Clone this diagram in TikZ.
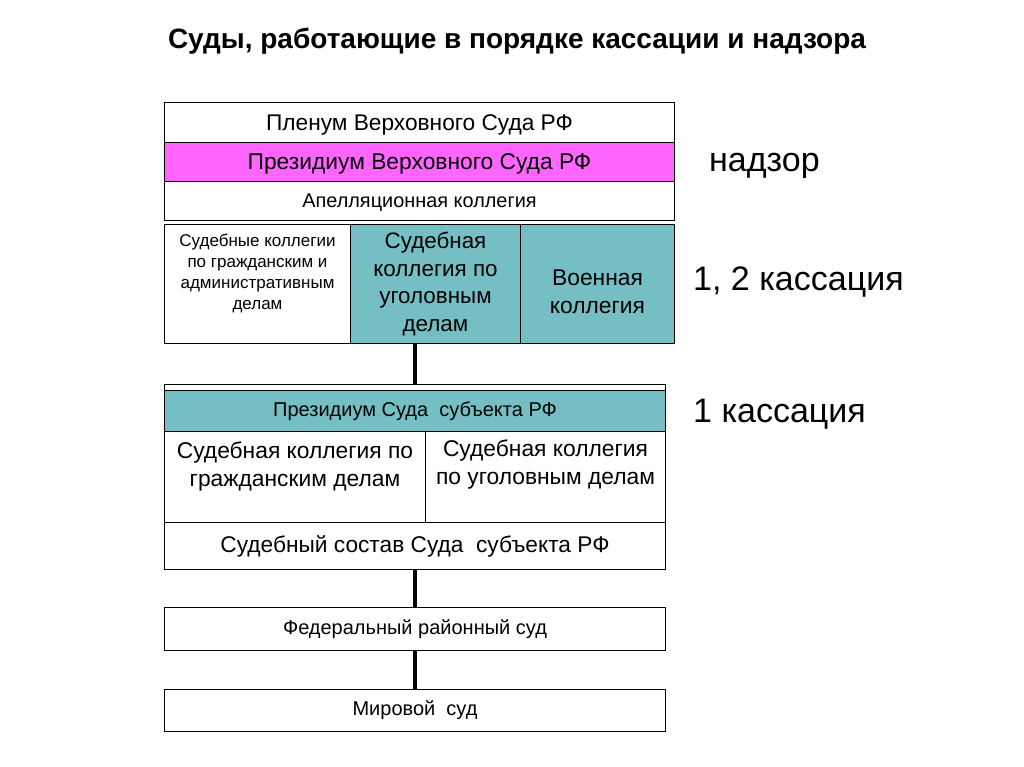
\documentclass[tikz,border=0pt]{standalone}
\usepackage{fontspec}
\setmainfont{Liberation Sans}
\definecolor{teal1}{RGB}{116,190,196}
\definecolor{mag}{RGB}{255,102,255}
\begin{document}
\begin{tikzpicture}[x=1pt,y=-1pt,
  cell/.style={draw=black,line width=1pt,anchor=north west,inner sep=0pt,align=center,text=black},
  lowtext/.style={text depth=0pt},
  txt/.style={inner sep=0pt,align=center,text=black},
  conn/.style={line width=4pt,black},
  lab/.style={anchor=base west,inner sep=0pt,font=\fontsize{34}{40}\selectfont}]
\useasboundingbox (0,0) rectangle (1024,767);
\node[anchor=base,inner sep=0pt,font=\bfseries\fontsize{28}{32}\selectfont] (title) at (517,49) {Суды, работающие в порядке кассации и надзора};
% top block
\node[cell,lowtext,minimum width=510pt,minimum height=40pt,font=\fontsize{22.7}{26}\selectfont] (plen) at (164,102) {Пленум Верховного Суда РФ};
\node[cell,lowtext,fill=mag,minimum width=510pt,minimum height=39pt,font=\fontsize{22.8}{26}\selectfont] (prez) at (164,142) {Президиум Верховного Суда РФ};
\node[cell,lowtext,minimum width=510pt,minimum height=39pt,font=\fontsize{19.9}{23}\selectfont] (apel) at (164,181) {Апелляционная коллегия};
\node[cell,minimum width=186pt,minimum height=119pt] (civ) at (164,224) {};
\node[txt,font=\fontsize{17}{21}\selectfont] (civt) at ([yshift=11pt]civ.center) {Судебные коллегии\\по гражданским и\\административным\\делам};
\node[cell,fill=teal1,minimum width=170pt,minimum height=119pt,font=\fontsize{22.4}{27.7}\selectfont] (ug) at (350,224) {Судебная\\коллегия по\\уголовным\\делам};
\node[cell,fill=teal1,minimum width=154pt,minimum height=119pt] (voen) at (520,224) {};
\node[txt,font=\fontsize{22.8}{27.5}\selectfont] (voent) at ([yshift=-8pt]voen.center) {Военная\\коллегия};
% second block
\node[cell,minimum width=501pt,minimum height=185pt] (sub) at (164,384) {};
\node[cell,fill=teal1,minimum width=501pt,minimum height=41pt,font=\fontsize{20}{23}\selectfont] (psub) at (164,390) {Президиум Суда\ \ субъекта РФ};
\node[cell,minimum width=261pt,minimum height=91pt] (gr) at (164,431) {};
\node[txt,font=\fontsize{22.8}{28}\selectfont] (grt) at ([yshift=10pt]gr.center) {Судебная коллегия по\\гражданским делам};
\node[cell,minimum width=240pt,minimum height=91pt] (ug2) at (425,431) {};
\node[txt,font=\fontsize{22.8}{28}\selectfont] (ug2t) at ([yshift=12pt]ug2.center) {Судебная коллегия\\по уголовным делам};
\node[cell,minimum width=501pt,minimum height=47pt,font=\fontsize{22.7}{26}\selectfont] (sost) at (164,522) {Судебный состав Суда\ \ субъекта РФ};
\node[cell,minimum width=501pt,minimum height=43pt,font=\fontsize{20}{23}\selectfont] (fed) at (164,607) {Федеральный районный суд};
\node[cell,minimum width=501pt,minimum height=42pt,font=\fontsize{20}{23}\selectfont] (mir) at (164,689) {Мировой\ \ суд};
% connectors
\draw[conn] (sub.north) -- (sub.north |- ug.south);
\draw[conn] (sost.south) -- (fed.north);
\draw[conn] (fed.south) -- (mir.north);
% labels
\node[lab] (nadzor) at (709,172) {надзор};
\node[lab] (k12) at (693,290) {1, 2 кассация};
\node[lab] (k1) at (693,422) {1 кассация};
\end{tikzpicture}
\end{document}
